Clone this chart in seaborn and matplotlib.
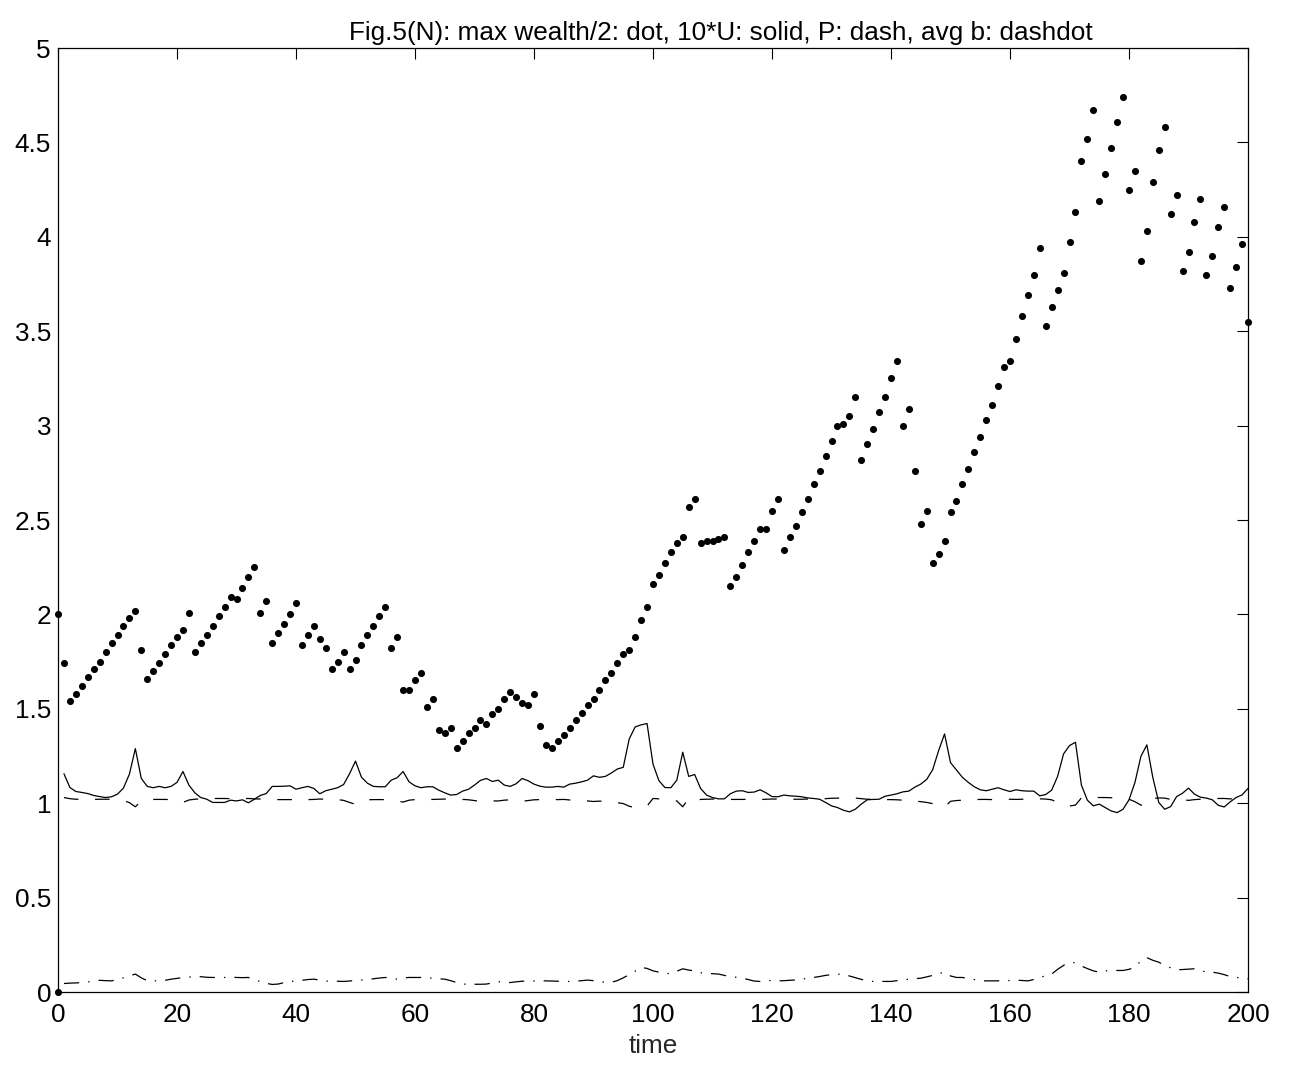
import matplotlib
matplotlib.use("Agg")
import matplotlib.pyplot as plt
import seaborn as sns

# ---- data -------------------------------------------------------------
# time axis for the wealth dots (0..200) and for the three curves (1..200)
time_dots = list(range(0, 201))
time_lines = list(range(1, 201))

# max wealth / 2, one value per time step (0..200)
wealth_half = [
    2.00, 1.74, 1.54, 1.58, 1.62, 1.67, 1.71, 1.75, 1.80, 1.85,
    1.89, 1.94, 1.98, 2.02, 1.81, 1.66, 1.70, 1.74, 1.79, 1.84,
    1.88, 1.92, 2.01, 1.80, 1.85, 1.89, 1.94, 1.99, 2.04, 2.09,
    2.08, 2.14, 2.20, 2.25, 2.01, 2.07, 1.85, 1.90, 1.95, 2.00,
    2.06, 1.84, 1.89, 1.94, 1.87, 1.82, 1.71, 1.75, 1.80, 1.71,
    1.76, 1.84, 1.89, 1.94, 1.99, 2.04, 1.82, 1.88, 1.60, 1.60,
    1.65, 1.69, 1.51, 1.55, 1.39, 1.37, 1.40, 1.29, 1.33, 1.37,
    1.40, 1.44, 1.42, 1.47, 1.50, 1.55, 1.59, 1.56, 1.53, 1.52,
    1.58, 1.41, 1.31, 1.29, 1.33, 1.36, 1.40, 1.44, 1.48, 1.52,
    1.55, 1.60, 1.65, 1.69, 1.74, 1.79, 1.81, 1.88, 1.97, 2.04,
    2.16, 2.21, 2.27, 2.33, 2.38, 2.41, 2.57, 2.61, 2.38, 2.39,
    2.39, 2.40, 2.41, 2.15, 2.20, 2.26, 2.33, 2.39, 2.45, 2.45,
    2.55, 2.61, 2.34, 2.41, 2.47, 2.54, 2.61, 2.69, 2.76, 2.84,
    2.92, 3.00, 3.01, 3.05, 3.15, 2.82, 2.90, 2.98, 3.07, 3.15,
    3.25, 3.34, 3.00, 3.09, 2.76, 2.48, 2.55, 2.27, 2.32, 2.39,
    2.54, 2.60, 2.69, 2.77, 2.86, 2.94, 3.03, 3.11, 3.21, 3.31,
    3.34, 3.46, 3.58, 3.69, 3.80, 3.94, 3.53, 3.63, 3.72, 3.81,
    3.97, 4.13, 4.40, 4.52, 4.67, 4.19, 4.33, 4.47, 4.61, 4.74,
    4.25, 4.35, 3.87, 4.03, 4.29, 4.46, 4.58, 4.12, 4.22, 3.82,
    3.92, 4.08, 4.20, 3.80, 3.90, 4.05, 4.16, 3.73, 3.84, 3.96,
    3.55,
]

# extra marker sitting at the origin
origin_t = [0]
origin_v = [0.0]

# 10*U (solid)
u_scaled = [
    1.156, 1.083, 1.062, 1.057, 1.051, 1.041, 1.035, 1.030, 1.034, 1.048,
    1.080, 1.154, 1.289, 1.131, 1.089, 1.082, 1.089, 1.082, 1.089, 1.110,
    1.168, 1.096, 1.055, 1.030, 1.021, 1.004, 1.004, 1.004, 1.016, 1.012,
    1.018, 1.002, 1.021, 1.041, 1.051, 1.089, 1.089, 1.090, 1.092, 1.074,
    1.082, 1.089, 1.078, 1.050, 1.066, 1.074, 1.082, 1.099, 1.156, 1.223,
    1.138, 1.106, 1.089, 1.087, 1.087, 1.122, 1.135, 1.168, 1.113, 1.092,
    1.082, 1.087, 1.087, 1.069, 1.055, 1.043, 1.046, 1.064, 1.074, 1.096,
    1.121, 1.131, 1.115, 1.122, 1.096, 1.089, 1.103, 1.131, 1.119, 1.101,
    1.090, 1.085, 1.085, 1.089, 1.085, 1.101, 1.106, 1.113, 1.122, 1.145,
    1.137, 1.142, 1.160, 1.181, 1.190, 1.340, 1.404, 1.415, 1.422, 1.207,
    1.119, 1.083, 1.082, 1.122, 1.270, 1.142, 1.152, 1.078, 1.043, 1.030,
    1.023, 1.023, 1.050, 1.064, 1.066, 1.057, 1.059, 1.071, 1.055, 1.035,
    1.034, 1.043, 1.039, 1.037, 1.034, 1.028, 1.025, 1.021, 1.004, 0.986,
    0.977, 0.963, 0.954, 0.968, 0.995, 1.018, 1.020, 1.021, 1.037, 1.043,
    1.050, 1.060, 1.064, 1.085, 1.101, 1.126, 1.177, 1.278, 1.367, 1.215,
    1.176, 1.137, 1.110, 1.087, 1.071, 1.066, 1.074, 1.082, 1.071, 1.062,
    1.071, 1.066, 1.064, 1.064, 1.039, 1.046, 1.069, 1.142, 1.261, 1.305,
    1.323, 1.096, 1.016, 0.986, 0.995, 0.977, 0.959, 0.950, 0.968, 1.018,
    1.110, 1.248, 1.309, 1.137, 1.004, 0.968, 0.982, 1.035, 1.053, 1.080,
    1.048, 1.032, 1.027, 1.018, 0.989, 0.980, 1.007, 1.030, 1.044, 1.078,
]

# P (dashed)
price = [
    1.030, 1.024, 1.021, 1.020, 1.020, 1.020, 1.021, 1.021, 1.021, 1.019,
    1.014, 1.003, 0.981, 1.012, 1.020, 1.020, 1.020, 1.020, 1.019, 1.014,
    1.004, 1.017, 1.021, 1.023, 1.024, 1.025, 1.025, 1.025, 1.024, 1.024,
    1.024, 1.025, 1.023, 1.022, 1.021, 1.019, 1.019, 1.019, 1.019, 1.020,
    1.019, 1.019, 1.020, 1.022, 1.021, 1.020, 1.019, 1.015, 1.004, 0.994,
    1.012, 1.018, 1.019, 1.019, 1.019, 1.015, 1.012, 1.006, 1.016, 1.019,
    1.020, 1.020, 1.020, 1.021, 1.022, 1.022, 1.022, 1.020, 1.018, 1.014,
    1.009, 1.007, 1.012, 1.012, 1.016, 1.018, 1.016, 1.010, 1.014, 1.018,
    1.019, 1.020, 1.020, 1.019, 1.020, 1.017, 1.015, 1.014, 1.012, 1.009,
    1.011, 1.010, 1.007, 1.003, 0.998, 0.984, 0.976, 0.979, 0.985, 1.025,
    1.023, 1.020, 1.019, 1.012, 0.981, 1.025, 1.012, 1.020, 1.021, 1.022,
    1.022, 1.022, 1.020, 1.020, 1.020, 1.021, 1.021, 1.019, 1.021, 1.022,
    1.022, 1.021, 1.021, 1.021, 1.021, 1.022, 1.022, 1.022, 1.024, 1.026,
    1.027, 1.028, 1.028, 1.027, 1.024, 1.021, 1.021, 1.021, 1.019, 1.019,
    1.018, 1.016, 1.015, 1.012, 1.008, 1.004, 0.998, 0.990, 0.979, 1.010,
    1.014, 1.016, 1.018, 1.019, 1.020, 1.020, 1.019, 1.019, 1.020, 1.021,
    1.020, 1.021, 1.021, 1.021, 1.023, 1.022, 1.018, 1.004, 0.988, 0.985,
    0.990, 1.028, 1.030, 1.031, 1.030, 1.030, 1.029, 1.028, 1.026, 1.021,
    1.008, 0.990, 0.986, 1.025, 1.028, 1.027, 1.020, 1.018, 1.018, 1.015,
    1.019, 1.021, 1.022, 1.023, 1.025, 1.025, 1.023, 1.021, 1.019, 1.018,
]

# average b (dash-dot)
avg_b = [
    0.045, 0.047, 0.048, 0.050, 0.053, 0.058, 0.062, 0.060, 0.059, 0.066,
    0.075, 0.085, 0.095, 0.075, 0.060, 0.059, 0.059, 0.062, 0.068, 0.072,
    0.077, 0.079, 0.080, 0.081, 0.078, 0.077, 0.077, 0.077, 0.078, 0.077,
    0.076, 0.077, 0.065, 0.055, 0.046, 0.040, 0.042, 0.050, 0.055, 0.059,
    0.062, 0.066, 0.068, 0.063, 0.058, 0.057, 0.057, 0.056, 0.058, 0.062,
    0.063, 0.066, 0.070, 0.074, 0.077, 0.072, 0.068, 0.074, 0.077, 0.077,
    0.077, 0.077, 0.072, 0.070, 0.068, 0.060, 0.050, 0.042, 0.041, 0.041,
    0.041, 0.042, 0.048, 0.054, 0.053, 0.050, 0.054, 0.057, 0.058, 0.058,
    0.058, 0.059, 0.058, 0.057, 0.056, 0.056, 0.057, 0.060, 0.063, 0.060,
    0.054, 0.052, 0.052, 0.060, 0.075, 0.092, 0.110, 0.130, 0.125, 0.112,
    0.105, 0.100, 0.096, 0.110, 0.123, 0.116, 0.112, 0.102, 0.099, 0.097,
    0.095, 0.088, 0.081, 0.078, 0.073, 0.066, 0.058, 0.056, 0.062, 0.060,
    0.059, 0.060, 0.062, 0.064, 0.068, 0.073, 0.077, 0.082, 0.088, 0.092,
    0.094, 0.095, 0.085, 0.076, 0.067, 0.059, 0.056, 0.056, 0.056, 0.056,
    0.060, 0.064, 0.068, 0.071, 0.073, 0.080, 0.088, 0.097, 0.105, 0.085,
    0.077, 0.077, 0.072, 0.066, 0.059, 0.059, 0.059, 0.059, 0.060, 0.061,
    0.063, 0.061, 0.059, 0.066, 0.077, 0.086, 0.095, 0.120, 0.141, 0.156,
    0.155, 0.138, 0.124, 0.112, 0.105, 0.112, 0.114, 0.114, 0.114, 0.120,
    0.132, 0.165, 0.182, 0.168, 0.158, 0.140, 0.128, 0.118, 0.119, 0.121,
    0.123, 0.115, 0.105, 0.105, 0.100, 0.092, 0.082, 0.077, 0.074, 0.070,
]

x_ticks = [0, 20, 40, 60, 80, 100, 120, 140, 160, 180, 200]
y_ticks = [0, 0.5, 1, 1.5, 2, 2.5, 3, 3.5, 4, 4.5, 5]
y_tick_labels = ["0", "0.5", "1", "1.5", "2", "2.5", "3", "3.5", "4", "4.5", "5"]
title_text = "Fig.5(N): max wealth/2: dot, 10*U: solid, P: dash, avg b: dashdot"
x_label = "time"

# ---- style ------------------------------------------------------------
sns.set_style("white")
plt.rcParams["font.family"] = ["Liberation Sans", "DejaVu Sans"]
plt.rcParams["lines.scale_dashes"] = False
FS = 18.8

W, H = 1294, 1066
fig = plt.figure(figsize=(W / 100, H / 100), dpi=100)
ax = fig.add_axes([58 / W, 1 - 992 / H, 1190 / W, 944 / H])

# ---- marks ------------------------------------------------------------
sns.scatterplot(x=time_dots, y=wealth_half, color="black", s=26,
                linewidth=0, marker="o", ax=ax, clip_on=False, zorder=3)
sns.scatterplot(x=origin_t, y=origin_v, color="black", s=26,
                linewidth=0, marker="o", ax=ax, clip_on=False, zorder=3)

sns.lineplot(x=time_lines, y=u_scaled, color="black", linewidth=0.9,
             estimator=None, sort=False, ax=ax)
sns.lineplot(x=time_lines, y=price, color="black", linewidth=0.9,
             estimator=None, sort=False, ax=ax,
             linestyle=(0, (10.5, 12.0)))
sns.lineplot(x=time_lines, y=avg_b, color="black", linewidth=0.9,
             estimator=None, sort=False, ax=ax,
             linestyle=(0, (11.0, 6.5, 1.0, 6.5)))

# ---- axes -------------------------------------------------------------
ax.set_xlim(0, 200)
ax.set_ylim(0, 5)
ax.set_xticks(x_ticks)
ax.set_xticklabels([str(v) for v in x_ticks])
ax.set_yticks(y_ticks)
ax.set_yticklabels(y_tick_labels)
ax.tick_params(axis="both", direction="in", length=8, width=0.8,
               top=True, right=True, labelsize=FS, colors="black")
ax.tick_params(axis="x", pad=8)
ax.tick_params(axis="y", pad=5)
for sp in ax.spines.values():
    sp.set_visible(True)
    sp.set_color("black")
    sp.set_linewidth(0.9)
ax.grid(False)

ax.set_xlabel(x_label, fontsize=FS, va="center")
ax.xaxis.set_label_coords(0.5, (992 - 1046) / 944)
ax.set_ylabel("")

fig.text(721 / W, 1 - 33 / H, title_text, ha="center", va="center",
         fontsize=FS, color="black")

fig.savefig("out.png", dpi=100, facecolor="white")
